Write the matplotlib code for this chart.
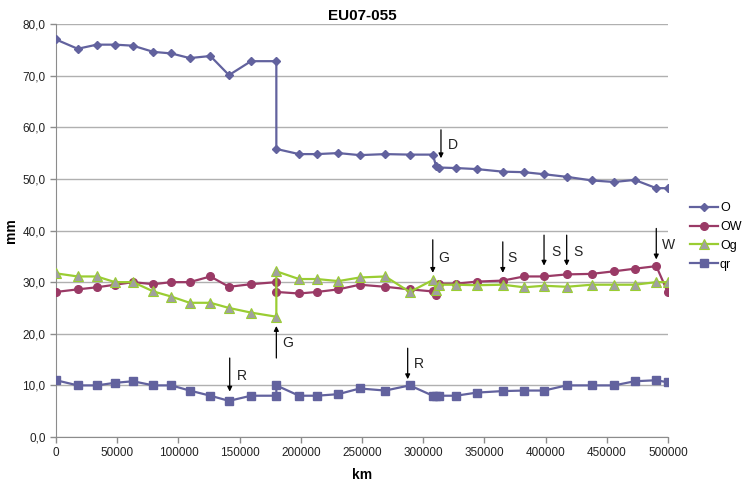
import matplotlib.pyplot as plt
from matplotlib.ticker import FuncFormatter

# measurement positions along the route (km)
km = [0, 17700, 33300, 48200, 62900, 79500, 94200, 109200, 126100, 141300,
      159300, 180000, 180000, 198500, 213200, 230600, 248100, 269000, 289000,
      307800, 310500, 312900, 326800, 343700, 365000, 382400, 398700, 417200,
      437700, 455900, 472800, 490400, 499700]

O = [77.0, 75.2, 76.0, 76.0, 75.8, 74.6, 74.3, 73.4, 73.8, 70.1,
     72.8, 72.8, 55.8, 54.8, 54.8, 55.0, 54.6, 54.8, 54.7,
     54.7, 52.5, 52.2, 52.1, 51.9, 51.4, 51.3, 50.9, 50.4,
     49.7, 49.4, 49.8, 48.2, 48.2]

OW = [28.1, 28.6, 29.0, 29.5, 30.0, 29.6, 30.0, 30.0, 31.1, 29.1,
      29.6, 30.0, 28.1, 27.8, 28.1, 28.6, 29.5, 29.1, 28.6,
      28.2, 27.6, 29.7, 29.7, 30.1, 30.3, 31.1, 31.1, 31.5,
      31.6, 32.1, 32.6, 33.1, 28.1]

Og = [31.7, 31.1, 31.1, 30.0, 30.0, 28.2, 27.2, 26.0, 26.0, 25.0,
      24.1, 23.3, 32.1, 30.6, 30.6, 30.2, 30.9, 31.1, 28.1,
      30.4, 28.4, 29.5, 29.5, 29.4, 29.5, 29.0, 29.3, 29.1,
      29.5, 29.5, 29.5, 30.0, 30.0]

qr = [11.0, 10.0, 10.0, 10.5, 10.8, 10.0, 10.0, 9.0, 8.0, 7.0,
      8.0, 8.0, 10.0, 8.0, 8.0, 8.3, 9.4, 9.0, 10.0,
      8.0, 8.0, 8.0, 8.0, 8.6, 8.9, 9.0, 9.0, 10.0,
      10.0, 10.0, 10.8, 11.0, 10.6]

# event markers: label, x, arrow start y, arrow end y, text x, text y
events = [
    ('D', 314500, 59.5, 54.0, 324300, 56.6),
    ('G', 307800, 38.2, 31.8, 317000, 34.7),
    ('S', 365000, 37.8, 31.8, 372300, 34.6),
    ('S', 398700, 39.1, 33.2, 408500, 35.9),
    ('S', 417200, 39.1, 33.2, 426200, 35.9),
    ('W', 490400, 40.4, 34.4, 500200, 37.2),
    ('G', 180000, 15.3, 21.5, 189500, 18.2),
    ('R', 141900, 15.3, 8.8, 151700, 11.9),
    ('R', 287300, 17.2, 11.2, 296600, 14.1),
]

plt.rcParams['font.family'] = ['Liberation Sans', 'DejaVu Sans']

fig = plt.figure(figsize=(7.5, 4.83), dpi=100)
ax = fig.add_axes([0.0747, 0.0952, 0.8160, 0.8551])

ax.plot(km, O, color='#62629E', lw=1.6, marker='D', ms=4.5, label='O', zorder=3)
ax.plot(km, OW, color='#9A3A66', lw=1.6, marker='o', ms=5.5, label='OW', zorder=3)
ax.plot(km, Og, color='#9ACD32', lw=1.6, marker='^', ms=6.5, mfc='#A0A0A0',
        mec='#9ACD32', mew=0.8, label='Og', zorder=3)
ax.plot(km, qr, color='#62629E', lw=1.6, marker='s', ms=5.5, label='qr', zorder=3)

for lab, x, y0, y1, tx, ty in events:
    ax.annotate('', xy=(x, y1), xytext=(x, y0),
                arrowprops=dict(arrowstyle='-|>', color='black', lw=0.9,
                                mutation_scale=7, shrinkA=0, shrinkB=0))
    ax.text(tx, ty, lab, fontsize=10, ha='center', va='center', color='#222222')

ax.set_xlim(0, 500000)
ax.set_ylim(0, 80)
ax.set_xticks(range(0, 500001, 50000))
ax.set_yticks(range(0, 81, 10))
ax.yaxis.set_major_formatter(FuncFormatter(lambda v, p: f'{v:.1f}'.replace('.', ',')))
ax.grid(axis='y', color='#B0B0B0', lw=1)
ax.set_axisbelow(True)

for side in ['top', 'right']:
    ax.spines[side].set_visible(False)
for side in ['left', 'bottom']:
    ax.spines[side].set_color('#8C8C8C')
ax.tick_params(axis='both', colors='#8C8C8C', labelcolor='#222222',
               labelsize=8.5, length=4, width=1)

ax.set_title('EU07-055', fontsize=11, fontweight='bold', pad=3)
ax.set_xlabel('km', fontsize=10, fontweight='bold')
ax.set_ylabel('mm', fontsize=10, fontweight='bold')
ax.yaxis.set_label_coords(-0.062, 0.5)
ax.xaxis.set_label_coords(0.5, -0.075)

fig.legend(loc='upper left', bbox_to_anchor=(0.905, 0.605), frameon=False,
           fontsize=9, handlelength=2.2, handletextpad=0.2, labelspacing=0.55)

fig.savefig('out.png', dpi=100)
